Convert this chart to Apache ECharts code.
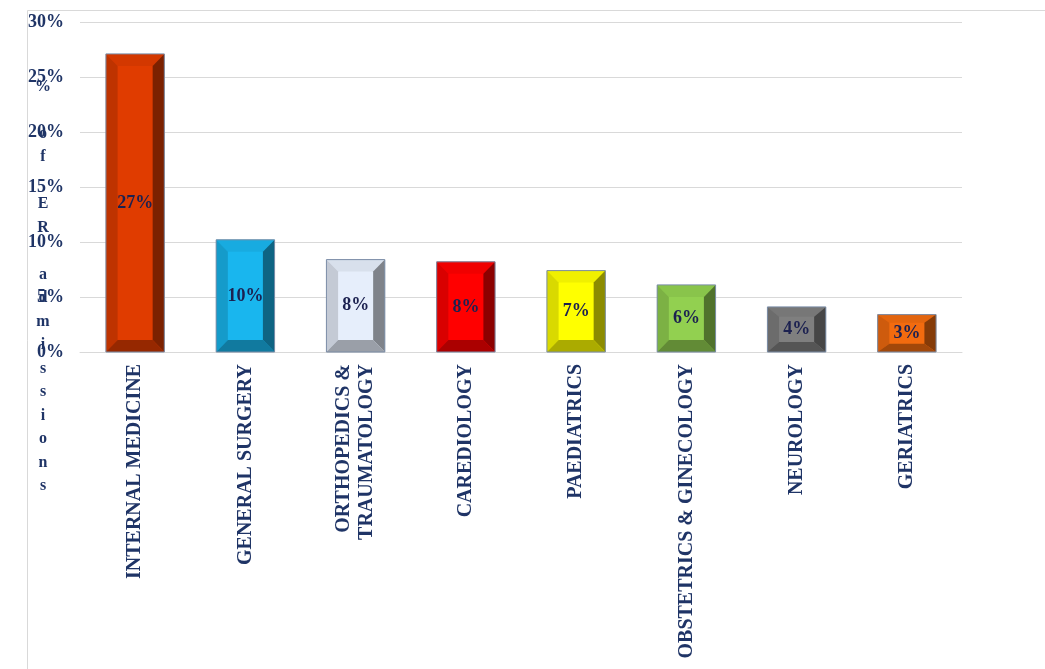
<!DOCTYPE html>
<html>
<head>
<meta charset="utf-8">
<script src="https://cdn.jsdelivr.net/npm/echarts@6/dist/echarts.min.js"></script>
<style>
  html, body { margin: 0; padding: 0; background: #ffffff; }
  #chart { width: 1045px; height: 669px; }
</style>
</head>
<body>
<div id="chart"></div>
<script>
// Share of ER admissions by department (%)
const departments = [
  'INTERNAL MEDICINE',
  'GENERAL SURGERY',
  'ORTHOPEDICS &\nTRAUMATOLOGY',
  'CAREDIOLOGY',
  'PAEDIATRICS',
  'OBSTETRICS & GINECOLOGY',
  'NEUROLOGY',
  'GERIATRICS'
];
const admissionShare = [27.1, 10.2, 8.4, 8.2, 7.4, 6.1, 4.1, 3.4];
const yTicks = { min: 0, max: 30, interval: 5 };
const axisTitle = '% of ER admissions';

// face colour of each bar; bevel shades are derived from it
const palette = ['#e03c00', '#19b6ee', '#e6eefb', '#ff0000', '#ffff00', '#92d050', '#7f7f7f', '#f26b0f'];

const navy = '#1f3466';
const serif = '"Liberation Serif", "Times New Roman", serif';

// darken a #rrggbb colour by factor k (0..1)
function shade(hex, k) {
  const n = parseInt(hex.slice(1), 16);
  const ch = [(n >> 16) & 255, (n >> 8) & 255, n & 255].map(v => Math.round(v * (1 - k)));
  return 'rgb(' + ch.join(',') + ')';
}

function bevelBar(params, api) {
  const idx = api.value(0);
  const val = api.value(1);
  const top = api.coord([idx, val]);
  const base = api.coord([idx, 0]);
  const band = api.size([1, 0])[0];
  const w = band * 0.53;
  const x0 = top[0] - w / 2, x1 = top[0] + w / 2;
  const y0 = top[1], y1 = base[1];
  const h = y1 - y0;
  const bx = Math.min(12, w * 0.2);
  const by = Math.min(12, h * 0.22);
  const ix0 = x0 + bx, ix1 = x1 - bx, iy0 = y0 + by, iy1 = y1 - by;
  const c = palette[idx];
  const poly = (pts, fill) => ({ type: 'polygon', shape: { points: pts }, style: { fill: fill } });
  return {
    type: 'group',
    children: [
      { type: 'rect', shape: { x: x0, y: y0, width: w, height: h }, style: { fill: c } },
      poly([[x0, y0], [x1, y0], [ix1, iy0], [ix0, iy0]], shade(c, 0.06)),
      poly([[x0, y0], [ix0, iy0], [ix0, iy1], [x0, y1]], shade(c, 0.15)),
      poly([[x1, y0], [x1, y1], [ix1, iy1], [ix1, iy0]], shade(c, 0.45)),
      poly([[x0, y1], [ix0, iy1], [ix1, iy1], [x1, y1]], shade(c, 0.33)),
      { type: 'rect', shape: { x: x0, y: y0, width: w, height: h },
        style: { fill: 'none', stroke: '#7a8ca6', lineWidth: 1 } },
      { type: 'text', style: {
          text: Math.round(val) + '%', x: top[0], y: (y0 + y1) / 2,
          align: 'center', verticalAlign: 'middle',
          font: 'bold 18px ' + serif, fill: '#1c2150'
        } }
    ]
  };
}

const chart = echarts.init(document.getElementById('chart'), null, { renderer: 'canvas' });
chart.setOption({
  animation: false,
  backgroundColor: '#ffffff',
  grid: { left: 80, right: 83, top: 22, bottom: 317, containLabel: false },
  xAxis: {
    type: 'category',
    data: departments,
    axisLine: { show: true, lineStyle: { color: '#d9d9d9', width: 1 } },
    axisTick: { show: false },
    axisLabel: {
      interval: 0, rotate: 90, margin: 12,
      fontFamily: serif, fontWeight: 'bold', fontSize: 20,
      color: navy, lineHeight: 23
    }
  },
  yAxis: {
    type: 'value',
    min: yTicks.min, max: yTicks.max, interval: yTicks.interval,
    axisLine: { show: false },
    axisTick: { show: false },
    splitLine: { lineStyle: { color: '#d9d9d9', width: 1 } },
    axisLabel: {
      formatter: '{value}%', margin: 16,
      fontFamily: serif, fontWeight: 'bold', fontSize: 18, color: navy
    }
  },
  graphic: [
    { type: 'rect', silent: true, z: -1,
      shape: { x: 27.5, y: 10.5, width: 1100, height: 700 },
      style: { fill: 'none', stroke: '#d9d9d9', lineWidth: 1 } },
    { type: 'text', silent: true,
      style: {
        text: axisTitle.split('').join('\n'),
        x: 43, y: 75, align: 'center', verticalAlign: 'top',
        font: 'bold 16px ' + serif, lineHeight: 23.5, fill: navy
      } }
  ],
  series: [{
    type: 'custom',
    renderItem: bevelBar,
    encode: { x: 0, y: 1 },
    data: admissionShare.map((v, i) => [i, v])
  }]
});
</script>
</body>
</html>
